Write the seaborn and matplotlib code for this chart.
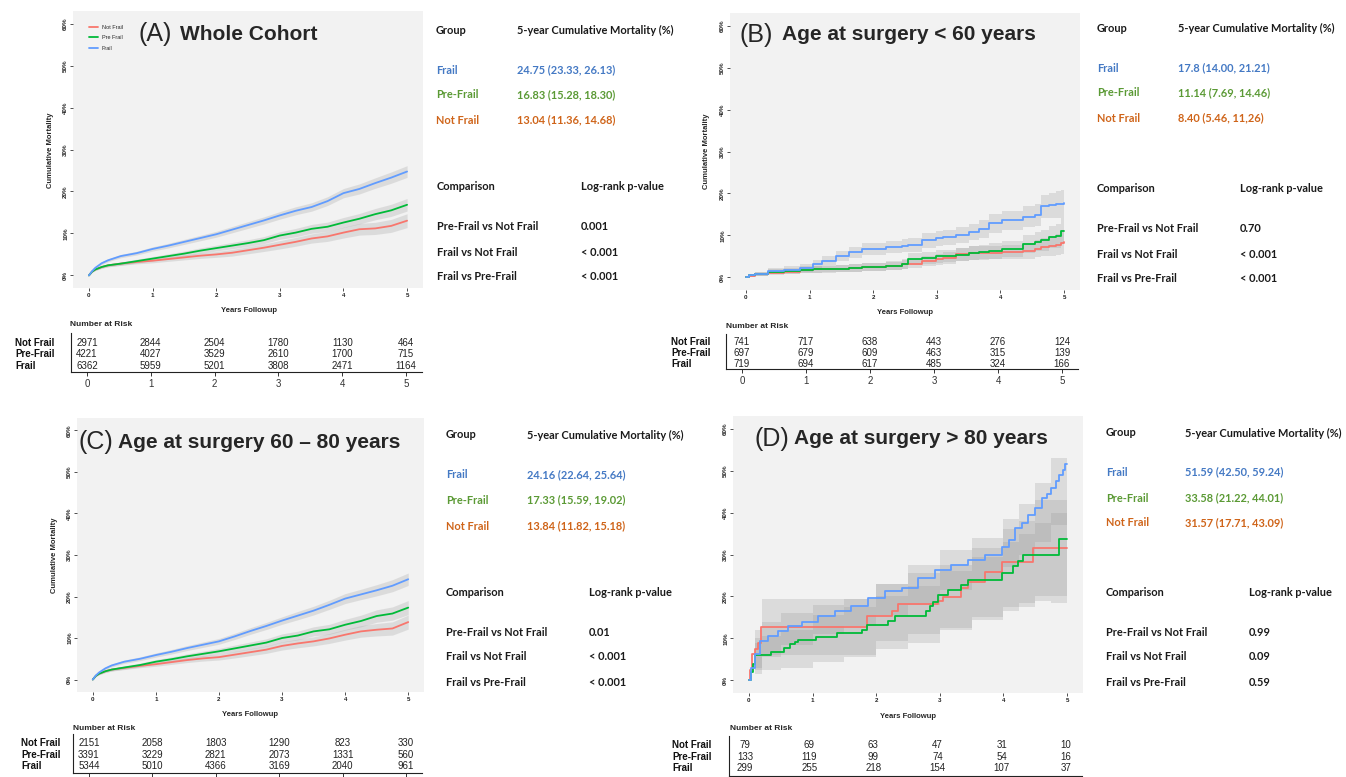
import matplotlib
matplotlib.use("Agg")
import pandas as pd
import matplotlib.pyplot as plt
import matplotlib.transforms as mtransforms
from matplotlib.lines import Line2D
import seaborn as sns

W, H = 1346, 777

GROUPS = ["Not Frail", "Pre-Frail", "Frail"]
LINE_COLORS = {"Not Frail": "#F8766D", "Pre-Frail": "#00BA38", "Frail": "#619CFF"}
TEXT_COLORS = {"Frail": "#4479C4", "Pre-Frail": "#5B9A35", "Not Frail": "#CF6419"}
YEARS = [0, 1, 2, 3, 4, 5]
COMPARISONS = ["Pre-Frail vs Not Frail", "Frail vs Not Frail", "Frail vs Pre-Frail"]

# ---- (A) whole cohort ----
A_t = [0, 0.05, 0.1, 0.2, 0.3, 0.5, 0.75, 1, 1.25, 1.5, 1.75, 2, 2.25, 2.5, 2.75, 3,
       3.25, 3.5, 3.75, 4, 4.25, 4.5, 4.75, 5]
A_frail = [0, 1.0, 1.8, 2.9, 3.6, 4.6, 5.3, 6.3, 7.1, 8.0, 8.9, 9.8, 10.9, 12.0, 13.1,
           14.3, 15.4, 16.3, 17.7, 19.6, 20.6, 22.0, 23.3, 24.75]
A_prefrail = [0, 0.9, 1.4, 2.0, 2.4, 2.8, 3.4, 4.0, 4.6, 5.2, 5.9, 6.5, 7.1, 7.7, 8.4,
              9.5, 10.2, 11.1, 11.6, 12.6, 13.5, 14.6, 15.5, 16.83]
A_notfrail = [0, 0.9, 1.4, 2.0, 2.4, 2.8, 3.2, 3.5, 3.9, 4.3, 4.7, 5.0, 5.4, 6.0, 6.6,
              7.3, 8.0, 8.8, 9.3, 10.2, 11.0, 11.2, 11.8, 13.04]
A_frail_ci = [0, 0.15, 0.2, 0.3, 0.35, 0.4, 0.45, 0.5, 0.55, 0.6, 0.65, 0.7, 0.75, 0.8,
              0.85, 0.9, 0.95, 1.0, 1.05, 1.1, 1.2, 1.25, 1.35, 1.4]
A_prefrail_ci = [0, 0.15, 0.2, 0.3, 0.35, 0.4, 0.45, 0.5, 0.55, 0.6, 0.65, 0.7, 0.75, 0.8,
                 0.85, 0.9, 1.0, 1.05, 1.1, 1.2, 1.25, 1.35, 1.45, 1.5]
A_notfrail_ci = [0, 0.2, 0.25, 0.3, 0.35, 0.4, 0.45, 0.5, 0.55, 0.6, 0.65, 0.7, 0.8, 0.85,
                 0.9, 1.0, 1.05, 1.1, 1.2, 1.3, 1.4, 1.45, 1.55, 1.65]
A_risk = {"Not Frail": [2971, 2844, 2504, 1780, 1130, 464],
          "Pre-Frail": [4221, 4027, 3529, 2610, 1700, 715],
          "Frail": [6362, 5959, 5201, 3808, 2471, 1164]}
A_mort = {"Frail": "24.75 (23.33, 26.13)", "Pre-Frail": "16.83 (15.28, 18.30)",
          "Not Frail": "13.04 (11.36, 14.68)"}
A_pval = ["0.001", "< 0.001", "< 0.001"]

# ---- (B) age < 60 ----
B_t = [0, 0.05, 0.15, 0.35, 0.6, 0.85, 1.05, 1.2, 1.41, 1.62, 1.83, 2.2, 2.46, 2.54,
       2.77, 2.98, 3.09, 3.3, 3.5, 3.66, 3.82, 4.03, 4.35, 4.55, 4.63, 4.76, 4.87, 4.95, 5.0]
B_frail = [0, 0.5, 0.8, 1.5, 1.8, 2.3, 3.1, 4.0, 5.0, 6.0, 6.7, 7.2, 7.6, 7.7, 8.8, 9.3,
           9.6, 10.2, 10.8, 11.6, 12.9, 13.6, 14.4, 14.9, 16.9, 17.2, 17.4, 17.6, 17.8]
B_prefrail = [0, 0.5, 0.8, 1.3, 1.6, 1.8, 1.9, 2.0, 2.1, 2.3, 2.5, 2.8, 3.1, 4.3, 4.6,
              5.0, 5.1, 5.4, 5.8, 6.0, 6.3, 6.8, 7.9, 8.5, 8.8, 9.6, 9.9, 11.14, 11.14]
B_notfrail = [0, 0.4, 0.7, 1.0, 1.4, 1.7, 1.9, 2.0, 2.1, 2.3, 2.5, 2.7, 3.1, 3.3, 3.9,
              4.3, 4.7, 5.5, 5.8, 5.9, 5.9, 6.0, 6.4, 6.8, 7.2, 7.5, 7.8, 8.2, 8.4]
B_frail_ci = [0, 0.3, 0.5, 0.7, 0.8, 0.9, 1.0, 1.1, 1.2, 1.3, 1.4, 1.5, 1.6, 1.6, 1.7,
              1.8, 1.8, 1.9, 2.0, 2.1, 2.2, 2.3, 2.5, 2.6, 2.8, 3.0, 3.2, 3.3, 3.4]
B_prefrail_ci = [0, 0.3, 0.4, 0.6, 0.7, 0.8, 0.8, 0.9, 0.9, 1.0, 1.0, 1.1, 1.2, 1.4, 1.4,
                 1.5, 1.5, 1.6, 1.7, 1.8, 1.8, 1.9, 2.1, 2.3, 2.4, 2.6, 2.8, 3.2, 3.3]
B_notfrail_ci = [0, 0.3, 0.4, 0.5, 0.6, 0.7, 0.8, 0.8, 0.9, 0.9, 1.0, 1.0, 1.1, 1.1, 1.2,
                 1.3, 1.4, 1.5, 1.6, 1.6, 1.6, 1.7, 1.9, 2.0, 2.2, 2.3, 2.5, 2.7, 2.9]
B_risk = {"Not Frail": [741, 717, 638, 443, 276, 124],
          "Pre-Frail": [697, 679, 609, 463, 315, 139],
          "Frail": [719, 694, 617, 485, 324, 166]}
B_mort = {"Frail": "17.8 (14.00, 21.21)", "Pre-Frail": "11.14 (7.69, 14.46)",
          "Not Frail": "8.40 (5.46, 11,26)"}
B_pval = ["0.70", "< 0.001", "< 0.001"]

# ---- (C) age 60-80 ----
C_t = [0, 0.05, 0.1, 0.2, 0.3, 0.5, 0.75, 1, 1.25, 1.5, 1.75, 2, 2.25, 2.5, 2.75, 3,
       3.25, 3.5, 3.75, 4, 4.25, 4.5, 4.75, 5]
C_frail = [0, 1.0, 1.7, 2.7, 3.4, 4.3, 5.0, 5.9, 6.7, 7.6, 8.4, 9.2, 10.4, 11.7, 12.9,
           14.2, 15.4, 16.6, 18.0, 19.5, 20.5, 21.5, 22.6, 24.16]
C_prefrail = [0, 0.9, 1.4, 2.0, 2.4, 2.9, 3.5, 4.3, 4.9, 5.6, 6.2, 6.8, 7.5, 8.2, 8.9,
              10.0, 10.6, 11.6, 12.1, 13.2, 14.1, 15.3, 15.9, 17.33]
C_notfrail = [0, 0.9, 1.4, 2.0, 2.4, 2.8, 3.3, 3.7, 4.2, 4.7, 5.1, 5.4, 6.0, 6.6, 7.2,
              8.1, 8.7, 9.2, 9.9, 10.8, 11.6, 12.0, 12.3, 13.84]
C_frail_ci = [0, 0.15, 0.2, 0.3, 0.35, 0.4, 0.45, 0.5, 0.55, 0.6, 0.65, 0.7, 0.75, 0.8,
              0.85, 0.9, 1.0, 1.05, 1.1, 1.2, 1.25, 1.35, 1.45, 1.5]
C_prefrail_ci = [0, 0.15, 0.2, 0.3, 0.35, 0.4, 0.45, 0.5, 0.55, 0.6, 0.65, 0.7, 0.8, 0.85,
                 0.9, 1.0, 1.05, 1.1, 1.2, 1.3, 1.4, 1.5, 1.6, 1.7]
C_notfrail_ci = [0, 0.2, 0.25, 0.3, 0.35, 0.4, 0.45, 0.5, 0.55, 0.6, 0.65, 0.7, 0.8, 0.85,
                 0.9, 1.0, 1.05, 1.1, 1.2, 1.3, 1.4, 1.5, 1.6, 1.7]
C_risk = {"Not Frail": [2151, 2058, 1803, 1290, 823, 330],
          "Pre-Frail": [3391, 3229, 2821, 2073, 1331, 560],
          "Frail": [5344, 5010, 4366, 3169, 2040, 961]}
C_mort = {"Frail": "24.16 (22.64, 25.64)", "Pre-Frail": "17.33 (15.59, 19.02)",
          "Not Frail": "13.84 (11.82, 15.18)"}
C_pval = ["0.01", "< 0.001", "< 0.001"]

# ---- (D) age > 80 ----
D_nf_t = [0, 0.02, 0.05, 0.1, 0.15, 0.19, 1.85, 2.25, 2.35, 2.97, 3.05, 3.34, 3.45, 3.71,
          3.97, 4.47, 5.0]
D_nf = [0, 2.5, 6.3, 7.5, 9.0, 12.8, 15.4, 16.6, 18.3, 19.0, 19.8, 21.9, 23.5, 25.8,
        28.3, 31.57, 31.57]
D_pf_t = [0, 0.04, 0.07, 0.1, 0.35, 0.55, 0.65, 0.72, 0.77, 1.05, 1.38, 1.77, 1.85, 2.19,
          2.3, 2.79, 2.84, 2.9, 2.97, 3.13, 3.34, 3.45, 3.97, 4.15, 4.23, 4.31, 4.88, 5.0]
D_pf = [0, 2.0, 4.0, 6.0, 6.8, 7.8, 8.6, 9.1, 9.7, 10.4, 11.3, 12.1, 13.1, 14.1, 15.3,
        16.5, 17.7, 18.8, 20.4, 21.6, 22.8, 24.0, 25.6, 27.2, 28.5, 29.9, 33.58, 33.58]
D_fr_t = [0, 0.04, 0.09, 0.17, 0.3, 0.46, 0.62, 0.83, 1.09, 1.35, 1.61, 1.87, 2.14, 2.4,
          2.66, 2.92, 3.18, 3.44, 3.71, 3.97, 4.08, 4.18, 4.29, 4.39, 4.5, 4.6, 4.68,
          4.75, 4.82, 4.88, 4.93, 4.96, 5.0]
D_fr = [0, 3.0, 6.2, 9.3, 10.5, 11.7, 12.9, 13.9, 15.3, 16.5, 17.7, 19.6, 21.2, 22.0,
        24.4, 26.4, 27.6, 28.7, 29.9, 31.9, 33.5, 36.3, 37.5, 39.4, 41.0, 43.4, 44.5,
        45.8, 47.5, 48.9, 50.2, 51.59, 51.59]
D_band_t = [0, 0.1, 0.2, 0.5, 1.0, 1.5, 2.0, 2.5, 3.0, 3.5, 4.0, 4.25, 4.5, 4.75, 5.0]
D_fr_lo = [0, 3.0, 6.0, 8.5, 11.0, 13.0, 15.5, 18.0, 21.5, 24.0, 27.0, 30.0, 33.0, 37.0, 42.5]
D_fr_hi = [0, 10.0, 14.0, 16.0, 18.0, 19.5, 23.0, 27.5, 31.0, 34.0, 38.5, 42.0, 47.0, 53.0, 59.24]
D_pf_lo = [0, 1.5, 2.5, 3.0, 4.5, 5.5, 7.5, 9.0, 12.0, 14.5, 16.5, 17.5, 19.0, 20.0, 21.2]
D_pf_hi = [0, 9.0, 10.5, 12.0, 15.5, 17.5, 20.0, 22.5, 26.0, 29.5, 33.0, 35.0, 37.5, 40.0, 44.0]
D_nf_lo = [0, 2.5, 5.5, 6.0, 6.0, 6.0, 9.5, 11.0, 12.5, 15.0, 17.5, 18.5, 20.0, 18.5, 17.7]
D_nf_hi = [0, 12.0, 19.5, 19.5, 19.5, 19.5, 23.0, 25.5, 27.5, 31.5, 36.0, 38.0, 43.0, 43.0, 43.1]
D_risk = {"Not Frail": [79, 69, 63, 47, 31, 10],
          "Pre-Frail": [133, 119, 99, 74, 54, 16],
          "Frail": [299, 255, 218, 154, 107, 37]}
D_mort = {"Frail": "51.59 (42.50, 59.24)", "Pre-Frail": "33.58 (21.22, 44.01)",
          "Not Frail": "31.57 (17.71, 43.09)"}
D_pval = ["0.99", "0.09", "0.59"]


def sym_band(t, v, ci):
    return (t, [max(a - b, 0) for a, b in zip(v, ci)], [a + b for a, b in zip(v, ci)])


sns.set_theme(style="white")
plt.rcParams["font.family"] = ["Liberation Sans", "DejaVu Sans"]
STAT_FONT = ["Lato", "DejaVu Sans"]

fig = plt.figure(figsize=(W / 100, H / 100), dpi=100)


def px_axes(l, t, r, b):
    return fig.add_axes([l / W, 1 - b / H, (r - l) / W, (b - t) / H])


def ftext(x, y, s, **kw):
    kw.setdefault("va", "center")
    fig.text(x / W, 1 - y / H, s, **kw)


def km_panel(box, curves, bands, steps, title, title_xy, xlab_xy, ylab_xy):
    ax = px_axes(*box)
    ax.set_facecolor("#F2F2F2")
    for g in GROUPS:
        bt, lo, hi = bands[g]
        ax.fill_between(bt, lo, hi, step="post" if steps else None,
                        color="#9A9A9A", alpha=0.25, lw=0)
    df = pd.concat([pd.DataFrame({"Years": curves[g][0], "Mortality": curves[g][1],
                                  "Group": g}) for g in GROUPS])
    sns.lineplot(data=df, x="Years", y="Mortality", hue="Group", hue_order=GROUPS,
                 palette=LINE_COLORS, estimator=None, sort=False, legend=False,
                 drawstyle="steps-post" if steps else "default", linewidth=1.3, ax=ax)
    ax.set_xlim(-0.25, 5.25)
    ax.set_ylim(-3, 63)
    ax.set_xticks(YEARS)
    ax.set_yticks(range(0, 61, 10))
    ax.set_yticklabels([f"{v}%" for v in range(0, 61, 10)], rotation=90, va="center")
    ax.tick_params(bottom=True, left=True, labelsize=4.5, length=2, width=0.6,
                   color="#333333", labelcolor="#222222", pad=1.5)
    for lab in ax.get_xticklabels() + ax.get_yticklabels():
        lab.set_fontweight("bold")
    for s in ax.spines.values():
        s.set_visible(False)
    ax.grid(False)
    ax.set_xlabel("")
    ax.set_ylabel("")
    # panel letter in light weight, subgroup name in bold
    ftext(title_xy[0], title_xy[1], title[0], fontsize=18)
    ftext(title_xy[2], title_xy[1], title[1], fontsize=15, fontweight="bold")
    ftext(xlab_xy[0], xlab_xy[1], "Years Followup", fontsize=5.5, fontweight="bold",
          ha="center")
    if ylab_xy is not None:
        ftext(ylab_xy[0], ylab_xy[1], "Cumulative Mortality", fontsize=5.5,
              fontweight="bold", ha="center", rotation=90)
    return ax


def risk_table(box, rows_y, nar_xy, lab_x, risk, tick_labels=True):
    l, t, r, b = box
    rax = px_axes(l, t, r, b)
    rax.set_facecolor("white")
    rax.set_xlim(-0.25, 5.25)
    rax.set_ylim(b, t)
    rax.set_yticks([])
    rax.set_xticks(YEARS)
    rax.tick_params(bottom=True, labelsize=7, length=3, width=0.7, color="#333333",
                    labelcolor="#333333", pad=2, labelbottom=tick_labels)
    for side in ("top", "right"):
        rax.spines[side].set_visible(False)
    for side in ("left", "bottom"):
        rax.spines[side].set_color("#222222")
        rax.spines[side].set_linewidth(0.8)
    trans = mtransforms.blended_transform_factory(fig.transFigure, rax.transData)
    for g, y in zip(GROUPS, rows_y):
        for yr, n in zip(YEARS, risk[g]):
            rax.text(yr, y, str(n), ha="center", va="center", fontsize=7, color="#222222")
        rax.text(lab_x / W, y, g, transform=trans, ha="left", va="center",
                 fontsize=7, fontweight="bold", color="#111111")
    ftext(nar_xy[0], nar_xy[1], "Number at Risk", fontsize=6, fontweight="bold")


def stats_block(x1, x2, y_head, y_rows, x3, x4, y_head2, y_rows2, mort, pvals):
    kw = dict(family=STAT_FONT, fontweight="bold", fontsize=7.9)
    ftext(x1, y_head, "Group", color="#1A1A1A", **kw)
    ftext(x2, y_head, "5-year Cumulative Mortality (%)", color="#1A1A1A", **kw)
    for g, y in zip(["Frail", "Pre-Frail", "Not Frail"], y_rows):
        ftext(x1, y, g, color=TEXT_COLORS[g], **kw)
        ftext(x2, y, mort[g], color=TEXT_COLORS[g], **kw)
    ftext(x3, y_head2, "Comparison", color="#1A1A1A", **kw)
    ftext(x4, y_head2, "Log-rank p-value", color="#1A1A1A", **kw)
    for c, p, y in zip(COMPARISONS, pvals, y_rows2):
        ftext(x3, y, c, color="#1A1A1A", **kw)
        ftext(x4, y, p, color="#1A1A1A", **kw)


# ---- panel A ----
curves_A = {"Not Frail": (A_t, A_notfrail), "Pre-Frail": (A_t, A_prefrail), "Frail": (A_t, A_frail)}
bands_A = {"Not Frail": sym_band(A_t, A_notfrail, A_notfrail_ci),
           "Pre-Frail": sym_band(A_t, A_prefrail, A_prefrail_ci),
           "Frail": sym_band(A_t, A_frail, A_frail_ci)}
axA = km_panel((73, 11, 423, 288), curves_A, bands_A, False, ("(A)", "Whole Cohort"),
               (139, 34, 180), (249, 311), (51, 150))
handles = [Line2D([], [], color=LINE_COLORS[g], lw=1.3) for g in GROUPS]
axA.legend(handles, ["Not Frail", "Pre Frail", "Frail"], loc="upper left",
           bbox_to_anchor=(86 / W, 1 - 22 / H), bbox_transform=fig.transFigure,
           fontsize=4, frameon=False, handlelength=1.6, labelspacing=1.0,
           borderpad=0, handletextpad=0.7)
risk_table((71, 333, 422, 372), [343, 354, 366], (70, 325), 15, A_risk)
stats_block(436, 517, 30, [70, 95, 120], 437, 581, 187, [227, 252, 277], A_mort, A_pval)

# ---- panel B ----
curves_B = {"Not Frail": (B_t, B_notfrail), "Pre-Frail": (B_t, B_prefrail), "Frail": (B_t, B_frail)}
bands_B = {"Not Frail": sym_band(B_t, B_notfrail, B_notfrail_ci),
           "Pre-Frail": sym_band(B_t, B_prefrail, B_prefrail_ci),
           "Frail": sym_band(B_t, B_frail, B_frail_ci)}
km_panel((730, 13, 1080, 290), curves_B, bands_B, True, ("(B)", "Age at surgery < 60 years"),
         (739, 35, 782), (905, 313), (707, 151))
risk_table((726, 334, 1078, 369), [342, 353, 364], (726, 326), 671, B_risk)
stats_block(1097, 1178, 28, [68, 93, 118], 1097, 1240, 189, [229, 254, 279], B_mort, B_pval)

# ---- panel C ----
curves_C = {"Not Frail": (C_t, C_notfrail), "Pre-Frail": (C_t, C_prefrail), "Frail": (C_t, C_frail)}
bands_C = {"Not Frail": sym_band(C_t, C_notfrail, C_notfrail_ci),
           "Pre-Frail": sym_band(C_t, C_prefrail, C_prefrail_ci),
           "Frail": sym_band(C_t, C_frail, C_frail_ci)}
km_panel((77, 418, 424, 692), curves_C, bands_C, False, ("(C)", "Age at surgery 60 \u2013 80 years"),
         (79, 442, 118), (250, 715), (55, 555))
risk_table((73, 734, 422, 773), [743, 755, 766], (73, 729), 21, C_risk, tick_labels=False)
stats_block(446, 527, 435, [475, 500, 526], 446, 589, 593, [632, 657, 683], C_mort, C_pval)

# ---- panel D ----
curves_D = {"Not Frail": (D_nf_t, D_nf), "Pre-Frail": (D_pf_t, D_pf), "Frail": (D_fr_t, D_fr)}
bands_D = {"Not Frail": (D_band_t, D_nf_lo, D_nf_hi),
           "Pre-Frail": (D_band_t, D_pf_lo, D_pf_hi),
           "Frail": (D_band_t, D_fr_lo, D_fr_hi)}
km_panel((733, 416, 1083, 693), curves_D, bands_D, True, ("(D)", "Age at surgery > 80 years"),
         (754, 439, 794), (908, 716), None)
risk_table((729, 736, 1082, 776), [745, 757, 768], (730, 729), 672, D_risk, tick_labels=False)
stats_block(1106, 1185, 433, [472, 498, 523], 1106, 1249, 593, [632, 657, 683], D_mort, D_pval)

fig.savefig("out.png", dpi=100, facecolor="white")
